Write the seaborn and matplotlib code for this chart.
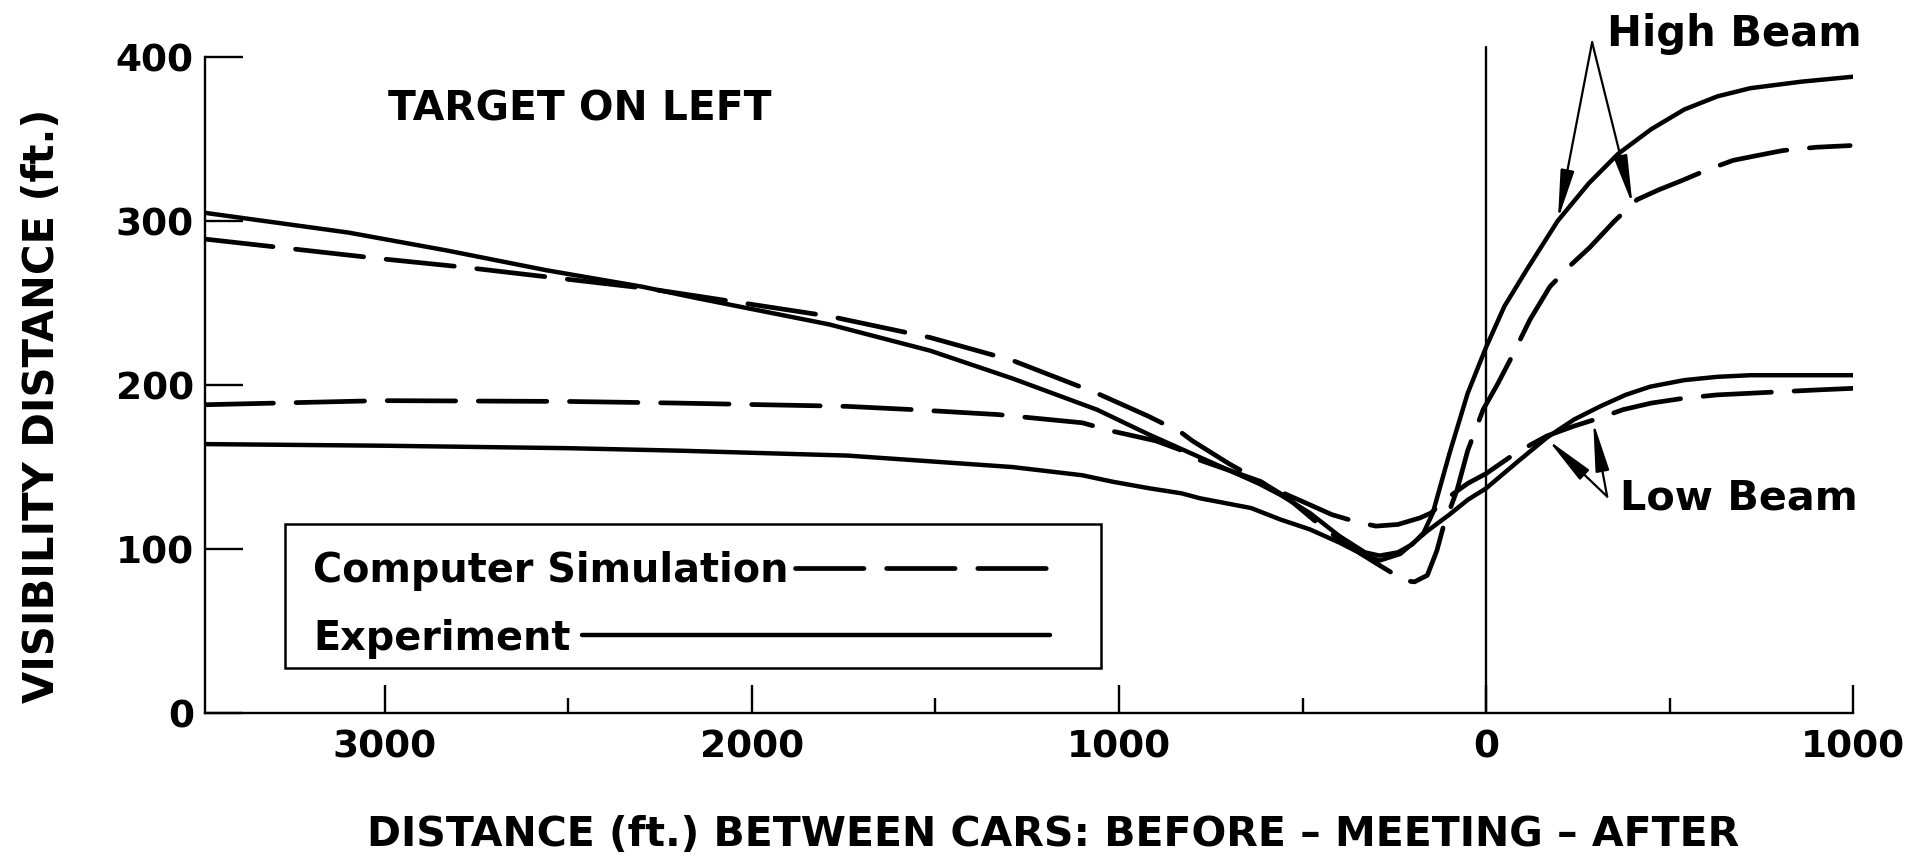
import matplotlib
matplotlib.use('Agg')
import matplotlib.pyplot as plt
import seaborn as sns
import pandas as pd
from matplotlib.patches import Rectangle

# distance between cars (ft): negative = before meeting, positive = after
high_exp_x = [-3490, -3100, -2830, -2560, -2300, -2150, -1790, -1515, -1290, -1060,
              -920, -830, -700, -620, -560, -480, -400, -330, -290, -240, -200,
              -170, -145, -100, -50, 0, 50, 110, 195, 280, 360, 450, 540, 630,
              720, 860, 1000]
high_exp_y = [305, 293, 282, 270, 260, 253, 237, 221, 204, 185,
              170, 161, 148, 140, 133, 122, 108, 98, 96, 98, 103,
              110, 122, 158, 195, 223, 248, 270, 300, 323, 341, 356, 368, 376,
              381, 385, 388]

high_sim_x = [-3490, -3290, -3010, -2790, -2560, -2290, -2200, -1790, -1515, -1290,
              -1060, -920, -830, -800, -700, -620, -540, -444, -406, -340, -297,
              -260, -230, -195, -160, -134, -117, -79, -50, -8, 30, 65, 120, 174,
              230, 283, 350, 411, 470, 537, 600, 673, 740, 809, 900, 992]
high_sim_y = [289, 284, 277, 272, 266, 259, 256, 242, 229, 215,
              195, 181, 171, 166, 152, 142, 131, 113, 107, 97, 91,
              86, 81, 80, 84, 99, 113, 136, 160, 185, 200, 215, 240, 260,
              273, 284, 300, 313, 319, 325, 331, 337, 340, 343, 345, 346]

low_exp_x = [-3490, -3000, -2500, -2200, -1740, -1290, -1100, -1016, -916, -830,
             -780, -640, -560, -480, -400, -330, -290, -234, -160, -100, -50, 0,
             90, 166, 240, 311, 380, 447, 540, 629, 720, 809, 900, 1000]
low_exp_y = [164, 163, 161.5, 160, 157, 150, 145, 141, 137, 134,
             131, 125, 118, 112, 104, 96, 93, 97, 111, 121, 130, 137,
             154, 168, 179, 187, 194, 199, 203, 205, 206, 206, 206, 206]

low_sim_x = [-3490, -3010, -2500, -2200, -1740, -1560, -1330, -1100, -1020, -900,
             -815, -790, -700, -624, -561, -480, -420, -352, -300, -240, -180,
             -150, -100, -50, 0, 84, 166, 240, 311, 373, 450, 540, 629, 720,
             809, 900, 1000]
low_sim_y = [188, 190.5, 190, 189, 187, 185, 182, 177, 172, 166,
             159, 155, 148, 142, 135, 127, 121, 116.5, 114, 115, 119,
             122, 132, 140, 146, 159, 169, 175, 180, 185, 189, 192, 194, 195,
             196, 197, 198]

xtick_pos = [-3000, -2000, -1000, 0, 1000]
xtick_labels = ['3000', '2000', '1000', '0', '1000']
xminor_pos = [-2500, -1500, -500, 500]
ytick_pos = [0, 100, 200, 300, 400]

sns.set_style('ticks')
plt.rcParams['font.family'] = ['DejaVu Sans']
plt.rcParams['font.weight'] = 'bold'
for key in ['text.color', 'axes.labelcolor', 'xtick.color', 'ytick.color',
            'axes.edgecolor']:
    plt.rcParams[key] = 'black'

DASH = (0, (14.5, 4.8))
LW_SOLID = 3.2
LW_DASH = 3.4

frames = []
for name, xs, ys in [('high_exp', high_exp_x, high_exp_y),
                     ('high_sim', high_sim_x, high_sim_y),
                     ('low_exp', low_exp_x, low_exp_y),
                     ('low_sim', low_sim_x, low_sim_y)]:
    frames.append(pd.DataFrame({'x': xs, 'y': ys, 'curve': name}))
df = pd.concat(frames, ignore_index=True)

fig = plt.figure(figsize=(19.12, 8.55), dpi=100)
ax = fig.add_axes([0.1072, 0.166, 0.862, 0.7673])

for name, sub in df.groupby('curve'):
    if name.endswith('sim'):
        sns.lineplot(data=sub, x='x', y='y', ax=ax, color='black', lw=LW_DASH,
                     linestyle=DASH, dash_capstyle='round',
                     dash_joinstyle='round', estimator=None)
    else:
        sns.lineplot(data=sub, x='x', y='y', ax=ax, color='black', lw=LW_SOLID,
                     solid_capstyle='round', solid_joinstyle='round',
                     estimator=None)

ax.set_xlim(-3490, 1000)
ax.set_ylim(0, 400)
sns.despine(ax=ax)
for sp in ax.spines.values():
    sp.set_linewidth(1.7)
ax.axvline(0, ymin=0, ymax=1.015, color='black', lw=1.7, clip_on=False)

ax.set_xticks(xtick_pos)
ax.set_xticklabels(xtick_labels)
ax.set_xticks(xminor_pos, minor=True)
ax.set_yticks(ytick_pos)
ax.tick_params(axis='x', which='major', direction='in', length=20, width=1.7,
               pad=12, labelsize=27)
ax.tick_params(axis='x', which='minor', direction='in', length=11, width=1.7)
ax.tick_params(axis='y', direction='in', length=27, width=1.7, pad=8,
               labelsize=27)
ax.set_xlabel('')
ax.set_ylabel('')

fig.text(0.551, 0.023, 'DISTANCE (ft.) BETWEEN CARS: BEFORE \u2013 MEETING \u2013 AFTER',
         ha='center', va='center', fontsize=29.5, fontweight='bold')
fig.text(0.022, 0.525, 'VISIBILITY DISTANCE (ft.)', rotation=90,
         ha='center', va='center', fontsize=30, fontweight='bold')

ax.text(0.111, 0.904, 'TARGET ON LEFT', transform=ax.transAxes,
        fontsize=29.3, fontweight='bold', ha='left', va='baseline')

# legend box drawn by hand: text first, sample line after it
ax.add_patch(Rectangle((0.0485, 0.0686), 0.4952, 0.2194, transform=ax.transAxes,
                       fill=False, ec='black', lw=1.8))
ax.text(0.0655, 0.1997, 'Computer Simulation', transform=ax.transAxes,
        fontsize=28.6, fontweight='bold', ha='left', va='baseline')
ax.text(0.0655, 0.0960, 'Experiment', transform=ax.transAxes,
        fontsize=28.6, fontweight='bold', ha='left', va='baseline')
ax.plot([0.358, 0.513], [0.221, 0.221], transform=ax.transAxes, color='black',
        lw=LW_DASH, linestyle=DASH, dash_capstyle='round')
ax.plot([0.229, 0.513], [0.1189, 0.1189], transform=ax.transAxes, color='black',
        lw=LW_SOLID, solid_capstyle='round')

arrow = dict(arrowstyle='-|>,head_length=1.0,head_width=0.14', color='black',
             lw=1.6, mutation_scale=30, shrinkA=0, shrinkB=0)
ax.text(330, 407, 'High Beam', fontsize=30, fontweight='bold', ha='left',
        va='baseline', clip_on=False)
ax.annotate('', xy=(196, 301), xytext=(289, 409), arrowprops=arrow,
            annotation_clip=False)
ax.annotate('', xy=(399, 310), xytext=(289, 409), arrowprops=arrow,
            annotation_clip=False)
ax.text(365, 124, 'Low Beam', fontsize=29.8, fontweight='bold', ha='left',
        va='baseline')
ax.annotate('', xy=(169, 166.5), xytext=(330, 132), arrowprops=arrow)
ax.annotate('', xy=(292, 177.5), xytext=(330, 132), arrowprops=arrow)

fig.savefig('out.png', dpi=100, facecolor='white')
